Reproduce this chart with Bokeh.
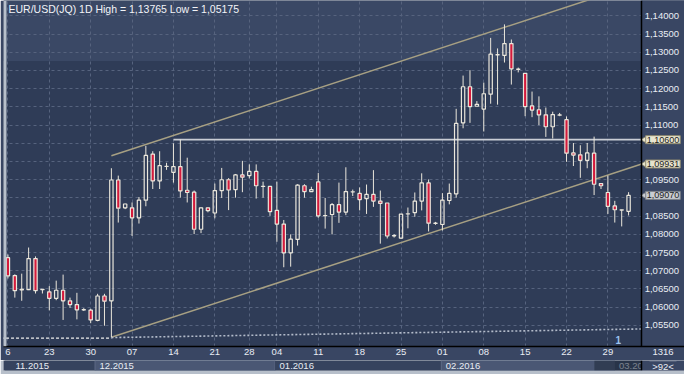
import math
from bokeh.plotting import figure
from bokeh.models import (ColumnDataSource, Range1d, FixedTicker, LinearAxis, Grid,
                          Label, BoxAnnotation, CustomJSTickFormatter)
from bokeh.layouts import column
from bokeh.embed import file_html
from bokeh.resources import INLINE
from bokeh.core.properties import value

# ---------------- data (daily candles, 16.11.2015 .. 01.03.2016, with Sunday bars) -------------
symbol = "EUR/USD(JQ) 1D"
opens = [1.07361, 1.06868, 1.06474, 1.06482, 1.07334, 1.06480, 1.06421, 1.06245, 1.06466, 1.06176,
         1.06071, 1.05925, 1.05921, 1.05639, 1.06308, 1.06176, 1.09492, 1.08729, 1.08729, 1.08455,
         1.08939, 1.10203, 1.09466, 1.09863, 1.09703, 1.09860, 1.09211, 1.09158, 1.08140, 1.08729,
         1.08587, 1.09203, 1.09500, 1.09229, 1.09632, 1.09613, 1.09729, 1.09316, 1.09316, 1.08658,
         1.08282, 1.07492, 1.07861, 1.09334, 1.09176, 1.09440, 1.08513, 1.08545, 1.08816, 1.08613,
         1.09163, 1.09124, 1.08982, 1.09097, 1.08913, 1.08861, 1.07961, 1.07895, 1.08561, 1.08597,
         1.08913, 1.09413, 1.08300, 1.08271, 1.08929, 1.09113, 1.11061, 1.12053, 1.11518, 1.11440,
         1.11850, 1.12926, 1.12913, 1.13237, 1.12532, 1.12421, 1.11526, 1.11421, 1.11282, 1.10955,
         1.11272, 1.11150, 1.10237, 1.10184, 1.10034, 1.10229, 1.09395, 1.09150, 1.08782, 1.08668,
         1.08632]
highs = [1.07447, 1.06903, 1.06921, 1.07639, 1.07395, 1.06500, 1.06579, 1.06729, 1.06895, 1.06263,
         1.06395, 1.05974, 1.05955, 1.06368, 1.06368, 1.09816, 1.09613, 1.08842, 1.08876, 1.09026,
         1.10429, 1.10282, 1.10282, 1.09966, 1.10500, 1.10605, 1.10105, 1.09203, 1.08745, 1.08737,
         1.09395, 1.09824, 1.09545, 1.09658, 1.10018, 1.09921, 1.09921, 1.09447, 1.09316, 1.09447,
         1.08395, 1.08000, 1.09376, 1.09376, 1.09308, 1.09684, 1.09000, 1.08861, 1.09421, 1.09842,
         1.09229, 1.09289, 1.09368, 1.09763, 1.09203, 1.08861, 1.08008, 1.08553, 1.08737, 1.09150,
         1.09676, 1.09508, 1.08342, 1.09132, 1.09395, 1.11447, 1.12360, 1.12508, 1.11658, 1.12166,
         1.13395, 1.13105, 1.13765, 1.13350, 1.12579, 1.12421, 1.11921, 1.11789, 1.11482, 1.11368,
         1.11334, 1.11237, 1.10508, 1.10447, 1.10508, 1.10684, 1.09395, 1.09613, 1.08921, 1.08684,
         1.09158]
lows = [1.06789, 1.06263, 1.06176, 1.06470, 1.06376, 1.06376, 1.05913, 1.06192, 1.05650, 1.05982,
        1.05666, 1.05895, 1.05561, 1.05613, 1.05492, 1.05175, 1.08324, 1.08692, 1.07955, 1.08297,
        1.08771, 1.09245, 1.09245, 1.09771, 1.09421, 1.09008, 1.08876, 1.08008, 1.08034, 1.08605,
        1.08439, 1.09000, 1.08666, 1.09008, 1.09158, 1.09534, 1.08982, 1.09008, 1.08508, 1.07797,
        1.07097, 1.07113, 1.07692, 1.09008, 1.09176, 1.08455, 1.08158, 1.08000, 1.08316, 1.08526,
        1.09053, 1.08658, 1.08561, 1.08755, 1.07745, 1.07887, 1.07913, 1.07876, 1.08166, 1.08482,
        1.08658, 1.08079, 1.08263, 1.08105, 1.08824, 1.09008, 1.10913, 1.11061, 1.11518, 1.10824,
        1.11587, 1.11561, 1.12718, 1.12113, 1.12447, 1.11245, 1.11218, 1.11000, 1.10676, 1.10632,
        1.11245, 1.09992, 1.09876, 1.09553, 1.09816, 1.09079, 1.09245, 1.08561, 1.08324, 1.08218,
        1.08518]
closes = [1.06861, 1.06455, 1.06492, 1.07334, 1.06455, 1.06487, 1.06245, 1.06466, 1.06176, 1.06071,
          1.05929, 1.05932, 1.05650, 1.06308, 1.06166, 1.09492, 1.08718, 1.08834, 1.08455, 1.08939,
          1.10166, 1.09466, 1.09887, 1.09868, 1.09860, 1.09192, 1.09150, 1.08140, 1.08729, 1.08650,
          1.09203, 1.09500, 1.09218, 1.09632, 1.09571, 1.09729, 1.09334, 1.09321, 1.08624, 1.08282,
          1.07492, 1.07868, 1.09350, 1.09176, 1.09229, 1.08508, 1.08518, 1.08816, 1.08613, 1.09176,
          1.09168, 1.08955, 1.09097, 1.08913, 1.08850, 1.07955, 1.07966, 1.08553, 1.08566, 1.08913,
          1.09413, 1.08308, 1.08308, 1.08939, 1.09124, 1.11045, 1.12053, 1.11508, 1.11571, 1.11861,
          1.12947, 1.12934, 1.13237, 1.12545, 1.12537, 1.11508, 1.11413, 1.11282, 1.10955, 1.11290,
          1.11278, 1.10229, 1.10176, 1.10034, 1.10237, 1.09376, 1.09334, 1.08771, 1.08676, 1.08676,
          1.09070]

week_ticks = [0, 6, 12, 18, 24, 30, 35, 39, 45, 51, 57, 63, 69, 75, 81, 87]
week_labels = ["6", "23", "30", "07", "14", "21", "28", "04", "11", "18", "25", "01", "08", "15", "22", "29"]
month_first_bar = [0, 13, 39, 63, 88]
month_labels = ["11.2015", "12.2015", "01.2016", "02.2016", "03.2016"]
price_levels = [1.055, 1.060, 1.065, 1.070, 1.075, 1.080, 1.085, 1.090, 1.095, 1.100,
                1.105, 1.110, 1.115, 1.120, 1.125, 1.130, 1.135, 1.140]

resistance_level = 1.10600
resistance_from_bar = 24
channel_x = [15, 91.9]
channel_lower = [1.05175, 1.09931]
channel_upper = [1.10158, 1.14914]
low_line_x = [-1, 15]
low_line_y = [1.05150, 1.05150]
floor_x = [15, 91.9]
floor_y = [1.05166, 1.05403]
event_bar = 88.5
shade_from_bar = 85.1
bar_count_text = "1316"
zoom_text = ">92<"

# ---------------- layout / style ----------------
FONT = "Liberation Sans"
FS = "9.5px"
W = 684
H_MAIN = 360
H_MONTH = 14
RIGHT_PANEL = 43
GRAY_W = 3
X_VIS_LO, X_HI = -0.21, 91.9
Y_LO, Y_HI = 1.04921, 1.14421
ppu = (W - RIGHT_PANEL - GRAY_W) / (X_HI - X_VIS_LO)
X_END = X_HI + RIGHT_PANEL / ppu

BG = "#2f3c57"
BAND = "#3a4865"
PANEL = "#394663"
GRAY = "#b7bfca"
GRID = "#56637e"
TXT = "#e9edf4"
RED = "#d41a3c"
CANDLE_LINE = "#ebe7dc"

p = figure(width=W, height=H_MAIN, output_backend="svg", toolbar_location=None,
           x_range=Range1d(X_VIS_LO - GRAY_W / ppu, X_END), y_range=Range1d(Y_LO, Y_HI),
           x_axis_location=None, y_axis_location=None,
           min_border_left=0, min_border_right=0, min_border_top=0, min_border_bottom=14,
           background_fill_color=BG, border_fill_color=PANEL, outline_line_color=None)
for g in p.grid:
    g.visible = False

p.add_layout(BoxAnnotation(bottom=1.1276, fill_color=BAND, fill_alpha=1, line_color=None, level="image"))

p.add_layout(Grid(dimension=0, ticker=FixedTicker(ticks=week_ticks), grid_line_color=GRID,
                  grid_line_dash="3 3", grid_line_width=1))
p.add_layout(Grid(dimension=1, ticker=FixedTicker(ticks=price_levels), grid_line_color=GRID,
                  grid_line_dash="3 3", grid_line_width=1))

# bottom (date) axis; the bar-count box sits under the price scale
count_tick = X_HI + (RIGHT_PANEL / 2) / ppu
overrides = {t: l for t, l in zip(week_ticks, week_labels)}
overrides[count_tick] = bar_count_text
xa = LinearAxis(ticker=FixedTicker(ticks=week_ticks + [count_tick]),
                major_label_overrides=overrides,
                axis_line_color="black", axis_line_width=1.5,
                major_tick_line_color=None, minor_tick_line_color=None,
                major_tick_out=0, major_tick_in=0, major_label_standoff=2,
                major_label_text_font=FONT, major_label_text_font_size=FS,
                major_label_text_color=TXT)
p.add_layout(xa, "below")

# price-scale panel
p.quad(left=[X_HI], right=[X_END + 1], bottom=[Y_LO - 1], top=[Y_HI + 1],
       fill_color=PANEL, line_color=None)

last_close = closes[-1]
tags = [(resistance_level, "#e9e6d0", "#8f8a70"),
        (channel_lower[-1], "#e6e3cb", "#8f8a70"),
        (last_close, "#c9ccd1", "#7d828a")]
shown_levels = [v for v in price_levels if all(abs(v - t[0]) > 0.0012 for t in tags)]
ya = LinearAxis(ticker=FixedTicker(ticks=shown_levels), fixed_location=X_HI,
                formatter=CustomJSTickFormatter(code="return tick.toFixed(5).replace('.', ',');"),
                axis_line_color="black", axis_line_width=1.5,
                major_tick_line_color=None, minor_tick_line_color=None,
                major_tick_out=0, major_tick_in=0, major_label_standoff=3,
                major_label_text_font=FONT, major_label_text_font_size=FS,
                major_label_text_color=TXT)
p.add_layout(ya, "right")

# lines
p.segment(x0=[resistance_from_bar], y0=[resistance_level], x1=[X_HI], y1=[resistance_level],
          line_color="#c9cdd5", line_width=1.8)
p.line(channel_x, channel_lower, line_color="#a7a083", line_width=1.5)
p.line(channel_x, channel_upper, line_color="#a7a083", line_width=1.5)
p.line(low_line_x, low_line_y, line_color="#eeeeee", line_width=1.2, line_dash="3 2")
p.line(floor_x, floor_y, line_color="#b3bbca", line_width=1.6, line_dash="2 2")

# candles
idx = list(range(len(opens)))
tops = [max(o, c) for o, c in zip(opens, closes)]
bots = [min(o, c) for o, c in zip(opens, closes)]
p.segment(x0=idx, y0=tops, x1=idx, y1=highs, line_color=CANDLE_LINE, line_width=1)
p.segment(x0=idx, y0=lows, x1=idx, y1=bots, line_color=CANDLE_LINE, line_width=1)
up = [i for i in idx if closes[i] >= opens[i]]
dn = [i for i in idx if closes[i] < opens[i]]
src_up = ColumnDataSource(dict(x=up, top=[tops[i] for i in up], bottom=[bots[i] for i in up]))
src_dn = ColumnDataSource(dict(x=dn, top=[tops[i] for i in dn], bottom=[bots[i] for i in dn]))
p.vbar(x="x", top="top", bottom="bottom", width=0.48, source=src_up,
       fill_alpha=0, line_color=CANDLE_LINE, line_width=1.2)
p.vbar(x="x", top="top", bottom="bottom", width=0.48, source=src_dn,
       fill_color=RED, line_color=CANDLE_LINE, line_width=1.2)

# left window border
p.add_layout(BoxAnnotation(right=X_VIS_LO, fill_color=GRAY, fill_alpha=1, line_color=None, level="overlay"))

# title
hi_txt = f"{max(highs):.5f}".replace(".", ",")
lo_txt = f"{min(lows):.5f}".replace(".", ",")
p.add_layout(Label(x=X_VIS_LO, y=Y_HI, x_offset=2, y_offset=-8, text_baseline="middle",
                   text=f"{symbol} High = {hi_txt} Low = {lo_txt}", text_font=FONT,
                   text_font_size="10.5px", text_color="#f2f4f8"))

# price tags on the right scale (arrow + box)
tag_vals = [t[0] for t in tags]
p.scatter(x=[X_HI + 3 / ppu] * len(tags), y=tag_vals, marker="triangle", size=7,
          angle=math.pi / 2, fill_color=[t[1] for t in tags], line_color=[t[2] for t in tags],
          line_width=0.8)
for val, bg, bd in tags:
    p.add_layout(Label(x=X_HI, x_offset=4, y=val, text=f"{val:.5f}".replace(".", ","),
                       text_baseline="middle", text_font=FONT, text_font_size="9px",
                       text_color="#1c1c1c", background_fill_color=bg, background_fill_alpha=1,
                       border_line_color=bd, padding=1))

p.add_layout(Label(x=event_bar, y=Y_LO, y_offset=7, text="1", text_align="center",
                   text_baseline="middle", text_font=FONT, text_font_size="10px",
                   text_font_style="bold", text_color="#9cc3f0"))

# ---------------- month strip ----------------
q_end = X_VIS_LO + (W - GRAY_W) / ppu
q = figure(width=W, height=H_MONTH, output_backend="svg", toolbar_location=None,
           x_range=Range1d(X_VIS_LO, q_end), y_range=Range1d(0, 1),
           x_axis_location=None, y_axis_location=None,
           min_border_left=GRAY_W, min_border_right=0, min_border_top=0, min_border_bottom=4,
           background_fill_color="#36435e", border_fill_color=GRAY, outline_line_color=None)
for g in q.grid:
    g.visible = False

m_left = month_first_bar
m_right = month_first_bar[1:] + [X_HI]
m_fill = ["#4a5774" if i % 2 == 1 else "#36435e" for i in range(len(month_labels))]
m_line = ["#5d6a86" if i % 2 == 1 else None for i in range(len(month_labels))]
q.quad(left=m_left, right=m_right, bottom=0, top=1, fill_color=m_fill, line_color=m_line, line_width=1)
label_x = [max(s + 4.5 / ppu, X_VIS_LO + 12 / ppu) for s in month_first_bar]
q.text(x=label_x, y=[0.45] * len(label_x), text=month_labels, text_baseline="middle",
       text_align="left", text_font=value(FONT), text_font_size=FS, text_color=TXT)
q.quad(left=[shade_from_bar], right=[X_HI], bottom=0, top=1, fill_color="#1e2839",
       fill_alpha=0.55, line_color=None)
q.quad(left=[X_HI], right=[q_end + 1], bottom=0, top=1, fill_color=PANEL, line_color=None)
q.segment(x0=[X_HI], y0=[0], x1=[X_HI], y1=[1], line_color="black", line_width=1.5)
q.segment(x0=[X_HI + 8 / ppu], y0=[0.97], x1=[X_HI + 35 / ppu], y1=[0.97],
          line_color="#8d98ab", line_width=1)
q.text(x=[X_HI + (RIGHT_PANEL / 2) / ppu], y=[0.45], text=[zoom_text], text_align="center",
       text_baseline="middle", text_font=value(FONT), text_font_size=FS, text_color=TXT)

layout = column(p, q, spacing=0)
open("out.html", "w").write(file_html(layout, INLINE))
